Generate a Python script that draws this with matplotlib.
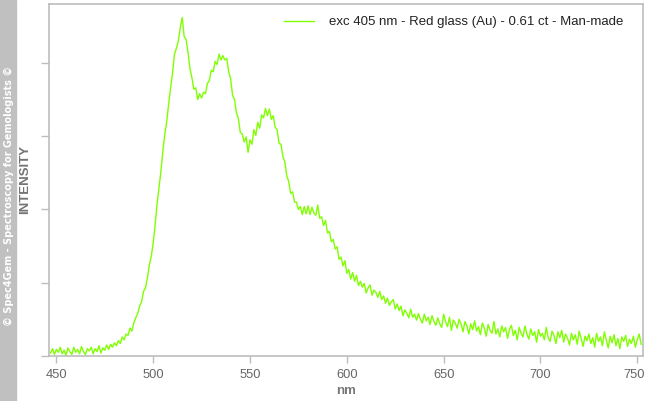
import numpy as np
import matplotlib.pyplot as plt
from matplotlib.transforms import ScaledTranslation

plt.rcParams['font.family'] = ['Liberation Sans', 'DejaVu Sans']

# wavelengths (nm), one reading per nm
nm = np.arange(447, 753)

# intensity (arbitrary units, tick spacing = 1)
intensity = [
    0.04, 0.10, 0.02, 0.09, 0.05, 0.12, 0.03, 0.08, 0.01, 0.11,
    0.06, 0.02, 0.12, 0.05, 0.09, 0.03, 0.13, 0.06, 0.02, 0.10,
    0.07, 0.12, 0.03, 0.10, 0.06, 0.14, 0.04, 0.11, 0.08, 0.15,
    0.09, 0.16, 0.12, 0.18, 0.14, 0.21, 0.17, 0.26, 0.22, 0.30,
    0.28, 0.38, 0.34, 0.45, 0.52, 0.58, 0.68, 0.74, 0.88, 0.93,
    1.06, 1.24, 1.36, 1.54, 1.79, 2.07, 2.30, 2.52, 2.80, 3.02,
    3.20, 3.44, 3.66, 3.86, 4.12, 4.20, 4.30, 4.48, 4.62, 4.36,
    4.32, 4.14, 3.92, 3.80, 3.64, 3.66, 3.50, 3.58, 3.52, 3.60,
    3.58, 3.72, 3.76, 3.90, 3.88, 4.02, 3.98, 4.12, 4.04, 4.10,
    4.04, 4.06, 3.88, 3.78, 3.56, 3.50, 3.32, 3.24, 3.05, 3.03,
    2.92, 2.99, 2.78, 2.95, 2.89, 3.09, 3.01, 3.19, 3.11, 3.29,
    3.25, 3.38, 3.28, 3.37, 3.23, 3.28, 3.12, 3.09, 2.90, 2.89,
    2.72, 2.65, 2.46, 2.38, 2.22, 2.24, 2.10, 2.10, 2.00, 2.04,
    1.93, 2.04, 1.94, 2.05, 1.93, 2.03, 1.95, 1.92, 2.06, 1.88,
    1.90, 1.78, 1.85, 1.68, 1.70, 1.56, 1.59, 1.46, 1.49, 1.32,
    1.35, 1.23, 1.30, 1.13, 1.18, 1.05, 1.14, 1.02, 1.10, 0.96,
    1.02, 0.94, 0.99, 0.86, 0.93, 0.97, 0.83, 0.90, 0.87, 0.80,
    0.88, 0.77, 0.82, 0.72, 0.79, 0.69, 0.74, 0.77, 0.64, 0.71,
    0.62, 0.68, 0.55, 0.63, 0.58, 0.52, 0.64, 0.53, 0.57, 0.49,
    0.58, 0.50, 0.45, 0.57, 0.48, 0.53, 0.43, 0.55, 0.47, 0.42,
    0.52, 0.44, 0.39, 0.57, 0.47, 0.40, 0.53, 0.35, 0.49, 0.45,
    0.38, 0.50, 0.44, 0.33, 0.47, 0.41, 0.30, 0.44, 0.36, 0.48,
    0.34, 0.40, 0.29, 0.45, 0.38, 0.27, 0.43, 0.35, 0.31, 0.47,
    0.30, 0.37, 0.26, 0.41, 0.33, 0.39, 0.24, 0.36, 0.42, 0.28,
    0.35, 0.22, 0.39, 0.31, 0.26, 0.41, 0.30, 0.23, 0.37, 0.28,
    0.33, 0.19, 0.36, 0.27, 0.31, 0.22, 0.39, 0.25, 0.20, 0.34,
    0.28, 0.17, 0.33, 0.25, 0.35, 0.19, 0.30, 0.24, 0.15, 0.31,
    0.22, 0.29, 0.16, 0.34, 0.24, 0.13, 0.27, 0.21, 0.30, 0.17,
    0.25, 0.12, 0.31, 0.20, 0.26, 0.14, 0.33, 0.22, 0.11, 0.27,
    0.18, 0.29, 0.14, 0.24, 0.10, 0.26, 0.20, 0.28, 0.13, 0.23,
    0.17, 0.27, 0.12, 0.22, 0.30, 0.16,
]

x_ticks = [450, 500, 550, 600, 650, 700, 750]
y_ticks = [0, 1, 2, 3, 4]
label = 'exc 405 nm - Red glass (Au) - 0.61 ct - Man-made'

W, H = 646, 401
fig = plt.figure(figsize=(W / 100, H / 100), dpi=100)
ax = fig.add_axes([49 / W, (H - 356) / H, (642.5 - 49) / W, (356 - 4.3) / H])

ax.plot(nm, intensity, color='#7FFF00', lw=1.0, label=label)

ax.set_xlim(446.2, 752.7)
ax.set_ylim(0, 4.8)
ax.set_xticks(x_ticks)
ax.set_yticks(y_ticks)
ax.set_yticklabels([])
for s in ax.spines.values():
    s.set_color('#bdbdbd')
    s.set_linewidth(1.2)
ax.tick_params(axis='x', colors='#bdbdbd', labelcolor='#666666', labelsize=9.3,
               length=5, width=1, pad=4)
ax.tick_params(axis='y', colors='#bdbdbd', length=6, width=1)

# nudge the last tick label so it stays inside the picture
last = ax.get_xticklabels()[-1]
last.set_transform(last.get_transform() + ScaledTranslation(-3 / 100, 0, fig.dpi_scale_trans))

ax.set_xlabel('nm', fontsize=9.5, fontweight='bold', color='#777777', labelpad=3)

leg = ax.legend(loc='upper right', bbox_to_anchor=(0.967, 0.966), frameon=False,
                borderpad=0, borderaxespad=0, handlelength=2.3, handletextpad=1.1,
                fontsize=9.5)
for t in leg.get_texts():
    t.set_color('#222222')

# side band with the copyright
fig.patches.append(plt.Rectangle((0, 0), 16 / W, 1, transform=fig.transFigure,
                                 color='#c0c0c0', zorder=0))
fig.text(8.5 / W, 1 - 196 / H, '© Spec4Gem - Spectroscopy for Gemologists ©',
         rotation=90, ha='center', va='center', color='white',
         fontsize=7, fontweight='bold', family='DejaVu Sans')
fig.text(25.5 / W, 1 - 180 / H, 'INTENSITY', rotation=90, ha='center', va='center',
         color='#747474', fontsize=9.5, fontweight='bold')

fig.savefig('out.png', dpi=100)
